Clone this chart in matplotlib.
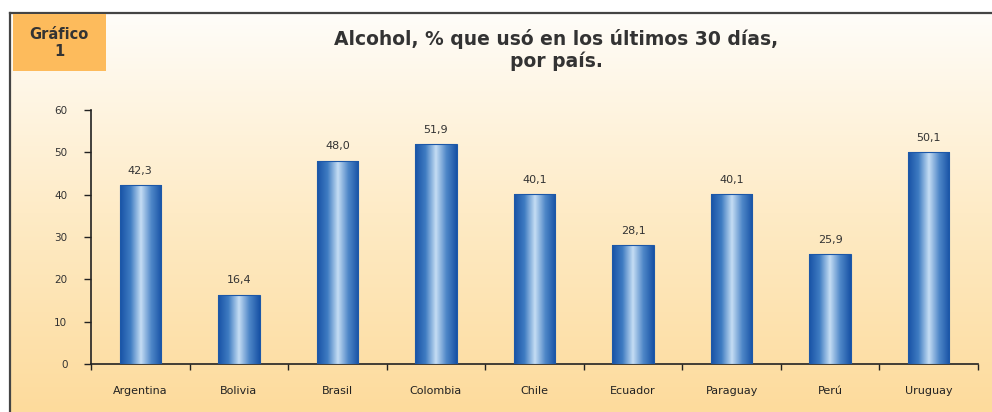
import matplotlib.pyplot as plt
import numpy as np
from matplotlib.colors import LinearSegmentedColormap
from matplotlib.patches import Rectangle

paises = ["Argentina", "Bolivia", "Brasil", "Colombia", "Chile",
          "Ecuador", "Paraguay", "Perú", "Uruguay"]
consumo = [42.3, 16.4, 48.0, 51.9, 40.1, 28.1, 40.1, 25.9, 50.1]
yticks = [0, 10, 20, 30, 40, 50, 60]

fig = plt.figure(figsize=(9.92, 4.12), dpi=100)
fig.patch.set_facecolor("white")

# fondo con degradado vertical dentro del marco
fondo = fig.add_axes([10 / 992, 0, 1 - 10 / 992, 1 - 13 / 412])
fondo_cmap = LinearSegmentedColormap.from_list(
    "fondo", ["#fddb9c", "#feebc6", "#fffdf9"])
fondo.imshow(np.linspace(0, 1, 256).reshape(-1, 1), aspect="auto",
             cmap=fondo_cmap, origin="lower", extent=[0, 1, 0, 1])
fondo.set_xticks([])
fondo.set_yticks([])
for lado in ["right", "bottom"]:
    fondo.spines[lado].set_visible(False)
for lado in ["top", "left"]:
    fondo.spines[lado].set_color("#444444")
    fondo.spines[lado].set_linewidth(1.6)

# recuadro "Gráfico 1"
fig.patches.append(Rectangle((13 / 992, 1 - 71 / 412), 93 / 992, 57 / 412,
                             transform=fig.transFigure, facecolor="#fdbb5c",
                             edgecolor="none", zorder=2))
fig.text(59 / 992, 1 - 43 / 412, "Gráfico\n1", ha="center", va="center",
         fontsize=10.5, fontweight="bold", color="#333333", linespacing=1.1)

fig.text(556 / 992, 1 - 50 / 412,
         "Alcohol, % que usó en los últimos 30 días,\npor país.",
         ha="center", va="center", fontsize=13.5, fontweight="bold",
         color="#333333", linespacing=1.2)

ax = fig.add_axes([91 / 992, 1 - 364 / 412, 887 / 992, 254 / 412])
ax.set_facecolor("none")

x = np.arange(len(paises))
barras = ax.bar(x, consumo, width=0.42, color="#2a66b5", linewidth=0,
                zorder=2)

# degradado horizontal en cada barra
barra_cmap = LinearSegmentedColormap.from_list(
    "barra", ["#1852a6", "#3f7cc2", "#c6def4", "#4f87c8", "#1752a5"])
grad = np.linspace(0, 1, 128).reshape(1, -1)
for b in barras:
    x0, w, h = b.get_x(), b.get_width(), b.get_height()
    im = ax.imshow(grad, aspect="auto", cmap=barra_cmap,
                   extent=[x0, x0 + w, 0, h], zorder=3)
    im.set_clip_path(b)

# contorno de las barras por encima del degradado
ax.bar(x, consumo, width=0.42, fill=False, edgecolor="#1d58a8",
       linewidth=0.8, zorder=4)

for xi, v in zip(x, consumo):
    ax.text(xi, v + 2.2, f"{v:.1f}".replace(".", ","), ha="center",
            va="bottom", fontsize=8, color="#333333")

ax.set_xlim(-0.5, len(paises) - 0.5)
ax.set_ylim(0, 60)
ax.set_yticks(yticks)
ax.set_yticklabels([str(t) for t in yticks], fontsize=7.5, color="#333333")
ax.set_xticks(x)
ax.set_xticklabels(paises, fontsize=8, color="#222222")
ax.tick_params(axis="x", length=0, pad=16)
ax.set_xticks(np.arange(len(paises) + 1) - 0.5, minor=True)
ax.tick_params(axis="x", which="minor", length=4, width=1, color="#222222")
ax.tick_params(axis="y", length=5, width=1, color="#222222", pad=12)

for lado in ["top", "right"]:
    ax.spines[lado].set_visible(False)
for lado in ["left", "bottom"]:
    ax.spines[lado].set_color("#222222")
    ax.spines[lado].set_linewidth(1.2)

fig.savefig("out.png", dpi=100)
